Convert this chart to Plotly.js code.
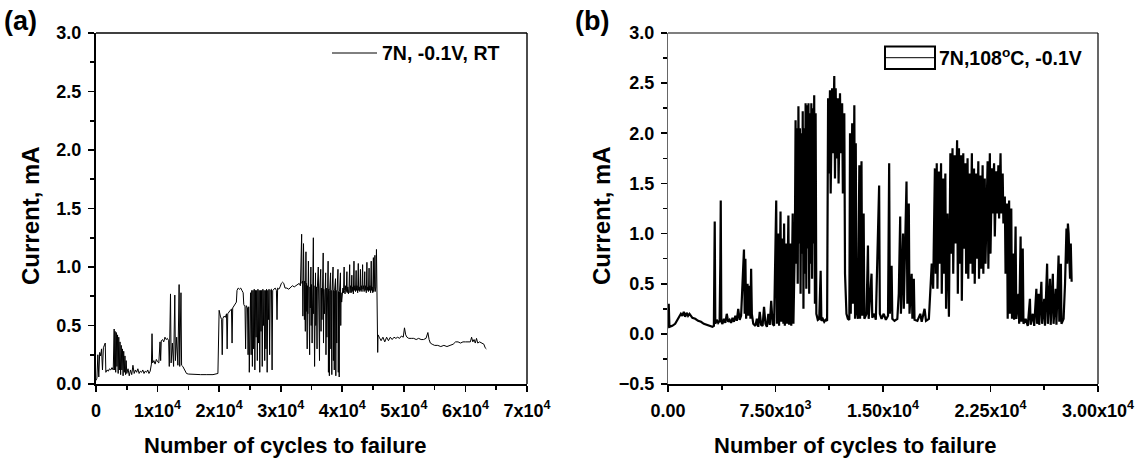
<!DOCTYPE html>
<html>
<head>
<meta charset="utf-8">
<script src="https://cdn.plot.ly/plotly-3.0.1.min.js"></script>
<style>html,body{margin:0;padding:0;background:#fff;}#chart{width:1141px;height:466px;}</style>
</head>
<body>
<div id="chart"></div>
<script>
// Panel (a): 7N, -0.1V, RT
const cyclesA = [0,150,300,450,600,750,900,1050,1200,1350,1500,1600,1800,2000,2200,2400,2600,2800,
2950,3000,3100,3200,3300,3400,3500,3600,3700,3800,3900,4000,4100,4200,4300,4400,4500,4600,4700,4800,4900,5000,
5200,5400,5600,5800,6000,6200,6400,6600,6800,7000,7200,7400,7600,7800,8000,8200,8400,8600,8800,
9000,9100,9200,9400,9600,9800,10000,10200,
10400,10500,10600,10800,11000,11200,11400,11600,11800,
11900,12100,12200,12400,12600,12800,12900,13100,13300,13500,13600,13800,13900,14100,14300,14500,14700,
15000,16000,17000,18000,19000,19800,
20000,20200,20400,20500,20600,20800,21000,21200,21300,21400,21600,21800,22000,22100,22200,22400,22600,22800,
22900,23100,23300,23500,23700,23900,
24000,24200,24300,24400,24600,24700,24800,24900,
25100,25200,25300,25400,25500,25600,25700,25800,25900,26000,26100,26200,26300,26400,26500,26600,26700,26800,26900,27000,27100,27200,27300,27400,27500,27600,27700,27800,27900,28000,28100,28200,28300,28500,28600,28700,28900,29100,29300,29400,29500,29700,29900,
30100,30300,30500,30700,31000,31300,31600,31900,32200,32500,32800,33000,
33200,33400,33450,33500,33550,33600,33700,33750,33800,33850,33900,34000,34050,34100,34150,34200,34300,34350,34400,34500,34550,34600,34700,34750,34800,34900,34950,35000,35100,35150,35300,35350,35400,35500,35550,35650,35700,35800,35900,35950,36100,36150,36200,36300,36350,36500,36550,36600,36700,36750,36900,36950,37000,37100,37150,37300,37350,37400,37500,37550,37700,37750,37800,37900,37950,38100,38150,38200,38300,38350,38500,38550,38600,38700,38750,38900,38950,39000,39100,39150,39300,39350,39400,39500,39550,39700,39750,39800,39900,
40000,40100,40200,40300,40350,40450,40550,40650,40750,40800,40900,41000,41100,41200,41250,41350,41450,41550,41600,41700,41800,41900,41950,42050,42150,42250,42300,42400,42500,42600,42650,42750,42850,42950,43000,43100,43200,43300,43350,43450,43550,43650,43700,43800,43900,44000,44050,44150,44250,44350,44400,44500,44600,44700,44750,44850,44950,45050,45100,45200,45300,45350,45450,45550,45650,45700,45750,45800,
46000,46300,46600,46900,47200,47500,47800,48100,48400,48700,49000,49300,49600,49900,50100,50300,50500,50800,51200,51600,52000,52400,52800,53200,53600,53900,54100,54300,54600,55000,55500,56000,56500,57000,57500,58000,58400,58800,59200,59600,60000,60400,60800,61000,61200,61400,61600,61800,62000,62300,62700,63000,63200,63400];
const currentA = [0.03,0.05,0.25,0.06,0.27,0.24,0.30,0.12,0.31,0.33,0.35,0.10,0.12,0.11,0.13,0.12,0.14,0.12,
0.47,0.12,0.45,0.10,0.44,0.15,0.42,0.09,0.40,0.12,0.36,0.08,0.33,0.12,0.30,0.07,0.28,0.10,0.24,0.08,0.20,0.09,
0.13,0.07,0.12,0.08,0.16,0.09,0.12,0.10,0.13,0.09,0.11,0.10,0.12,0.09,0.11,0.10,0.12,0.09,0.11,
0.17,0.43,0.18,0.20,0.17,0.21,0.19,0.18,
0.36,0.20,0.37,0.38,0.36,0.40,0.38,0.39,0.37,
0.15,0.77,0.18,0.35,0.15,0.76,0.20,0.40,0.16,0.85,0.15,0.78,0.16,0.15,0.13,0.11,0.09,
0.085,0.08,0.08,0.08,0.08,0.09,
0.63,0.58,0.55,0.25,0.56,0.58,0.57,0.60,0.30,0.60,0.62,0.63,0.64,0.35,0.65,0.67,0.68,0.70,
0.80,0.82,0.81,0.82,0.80,0.78,
0.68,0.66,0.30,0.67,0.65,0.25,0.66,0.10,
0.78,0.25,0.80,0.15,0.80,0.30,0.81,0.12,0.80,0.40,0.80,0.20,0.81,0.35,0.80,0.10,0.80,0.45,0.80,0.15,0.81,0.50,0.80,0.20,0.80,0.30,0.81,0.10,0.80,0.55,0.81,0.25,0.80,0.81,0.12,0.80,0.81,0.82,0.80,0.55,0.82,0.81,0.83,
0.86,0.87,0.86,0.82,0.82,0.81,0.83,0.84,0.83,0.84,0.85,0.86,
0.84,1.28,0.86,0.62,0.88,0.58,1.20,0.60,0.85,0.55,0.88,0.45,0.85,1.13,0.62,0.86,0.30,0.84,0.60,1.05,0.55,0.85,0.25,0.83,0.65,1.00,0.50,0.85,0.35,0.84,1.25,0.60,0.84,0.15,0.83,0.95,0.50,0.83,0.30,0.82,1.00,0.65,0.82,0.20,0.82,0.98,0.45,0.82,0.55,0.81,1.12,0.35,0.81,0.60,0.82,0.95,0.25,0.82,0.40,0.81,1.05,0.10,0.81,0.07,0.80,0.95,0.30,0.80,0.08,0.80,1.00,0.20,0.80,0.12,0.80,0.90,0.07,0.80,0.35,0.79,0.98,0.10,0.79,0.06,0.79,0.95,0.50,0.78,0.70,
0.75,0.82,0.78,1.00,0.80,0.77,0.84,0.79,0.96,0.78,0.83,0.77,0.82,1.02,0.78,0.84,0.78,0.93,0.79,0.83,0.77,1.05,0.80,0.84,0.79,0.97,0.80,0.84,0.78,1.03,0.80,0.83,0.79,0.98,0.80,0.84,0.79,1.02,0.81,0.84,0.79,0.96,0.80,0.84,0.78,1.04,0.80,0.83,0.79,0.99,0.80,0.84,0.78,1.05,0.80,0.83,0.78,1.08,0.79,0.82,1.10,0.79,0.83,1.15,0.78,0.80,0.27,0.42,
0.40,0.37,0.40,0.36,0.40,0.37,0.40,0.38,0.40,0.39,0.40,0.39,0.41,0.40,0.48,0.42,0.40,0.39,0.39,0.39,0.38,0.39,0.38,0.38,0.39,0.44,0.38,0.35,0.34,0.33,0.33,0.32,0.33,0.32,0.33,0.34,0.36,0.36,0.35,0.36,0.36,0.36,0.36,0.40,0.36,0.38,0.35,0.39,0.35,0.36,0.35,0.34,0.31,0.30];

// Panel (b): 7N, 108°C, -0.1V
const cyclesB = [0,50,100,300,500,700,900,1000,1100,1200,1300,1400,1500,1700,1900,2100,2300,2500,2700,2900,3100,3200,3260,3300,3400,3500,3600,3650,3680,3720,3800,3900,4000,4100,4200,4300,4400,4500,4600,4700,4800,4900,5000,5100,5200,5300,5350,5400,5450,5550,5600,5700,5750,5800,5850,5950,6100,6200,6300,6400,6500,6600,6700,6800,6900,7000,7100,7200,7300,7400,
7550,7600,7700,7750,7850,7900,8000,8050,8100,8150,8250,8300,8400,8450,8550,8600,8700,8750,8850,
8900,8950,9000,9050,9100,9150,9200,9250,9300,9350,9400,9450,9500,9550,9600,9650,9700,9750,9800,9850,9900,9950,10000,10050,10100,10150,10200,10250,10300,
10350,10450,10550,10650,10700,10800,10900,11000,11100,
11170,11220,11300,11350,11450,11500,11600,11650,11700,11750,11850,11900,12000,12050,12150,12200,12300,12350,12450,12550,12650,
12700,12750,12850,12900,13000,13050,13100,13150,13250,13350,13400,13500,13550,13650,13700,13850,13950,14000,14200,14250,14400,14500,14730,14780,14900,15050,15200,15350,15430,15480,15600,15650,15800,16000,
16100,16200,16250,16400,16450,16640,16700,16800,16850,17000,17050,17150,17200,17400,17600,17700,17900,18000,18200,
18300,18400,18500,18620,18680,18750,18800,18900,18950,19050,19100,19200,19250,19350,19400,19500,19600,
19700,19750,19850,19900,20000,20050,20170,20220,20300,20350,20450,20500,20600,20650,20750,20800,
20900,20950,21050,21100,21200,21250,21350,21400,21500,21550,21650,21700,21800,21850,21950,22000,22100,22150,22300,22350,22455,22500,
22600,22650,22750,22800,22900,22950,23050,23100,23200,23250,23350,
23400,23500,23550,23650,23700,23800,23850,23950,24000,24100,24150,24250,24300,24450,24500,24600,24650,24750,24800,24950,25100,25250,25300,25450,25550,25700,25750,25850,25900,26050,26100,26250,26300,26450,26500,26650,26700,26850,26900,27050,27100,27250,27300,27410,27450,27600,27700,27750,27800,27850,27900,27950,28050,28100,28160];
const currentB = [0.06,0.30,0.07,0.08,0.10,0.15,0.20,0.18,0.22,0.17,0.21,0.18,0.20,0.16,0.15,0.13,0.12,0.10,0.09,0.08,0.07,0.08,1.12,0.10,0.14,0.11,0.13,0.70,1.33,0.12,0.10,0.15,0.11,0.20,0.12,0.14,0.11,0.16,0.12,0.18,0.13,0.25,0.14,0.18,0.45,0.84,0.20,0.75,0.15,0.50,0.18,0.48,0.15,0.65,0.20,0.10,0.08,0.15,0.07,0.22,0.09,0.08,0.27,0.10,0.07,0.20,0.09,0.33,0.10,0.08,
1.33,0.10,1.00,0.08,1.22,0.12,0.95,0.10,1.10,0.08,0.90,0.10,1.18,0.09,0.90,0.08,1.20,0.10,0.90,
2.13,0.70,2.05,0.50,2.27,0.90,2.05,0.40,2.00,0.80,2.22,0.25,2.05,0.60,2.30,0.45,2.28,0.85,2.30,0.40,2.20,0.70,2.30,0.55,2.25,0.90,2.38,0.30,2.20,
0.20,0.14,0.15,0.63,0.13,0.15,0.12,0.14,0.13,
2.35,1.60,2.43,1.40,2.45,1.80,2.57,1.55,2.45,1.75,2.35,1.50,2.40,1.80,2.30,1.40,2.20,0.60,0.20,0.15,0.14,
2.00,0.20,2.10,0.30,2.28,0.15,1.90,0.25,0.15,1.68,0.15,1.72,0.18,1.20,0.15,0.20,0.88,0.15,0.60,0.16,0.20,0.14,1.48,0.20,0.15,0.20,0.14,0.18,1.70,0.20,0.68,0.15,0.13,0.15,
0.40,1.17,0.20,1.00,0.25,1.52,0.30,1.30,0.20,0.60,0.15,0.55,0.14,0.13,0.20,0.12,0.25,0.13,0.15,
0.50,0.70,0.45,1.65,0.60,1.70,0.45,1.62,0.70,1.70,0.40,1.55,0.60,1.60,0.25,1.20,0.17,
1.80,0.80,1.85,0.60,1.78,0.90,1.93,0.40,1.85,0.70,1.78,0.33,1.80,0.85,1.70,0.60,
1.75,0.55,1.60,0.70,1.80,0.60,1.65,0.50,1.60,0.75,1.72,0.55,1.58,0.65,1.68,0.60,1.55,0.70,1.72,0.65,1.80,0.80,
1.65,1.20,1.70,0.97,1.62,1.20,1.68,1.15,1.80,1.20,1.60,
1.10,1.37,0.60,1.30,0.15,1.33,0.20,1.25,0.15,0.80,0.14,1.07,0.15,0.40,0.10,0.97,0.12,0.85,0.10,0.15,0.08,0.35,0.09,0.20,0.08,0.45,0.10,0.40,0.09,0.52,0.10,0.35,0.08,0.70,0.10,0.55,0.09,0.60,0.10,0.45,0.09,0.78,0.12,0.70,0.10,0.15,0.50,0.90,1.05,0.70,1.10,1.00,0.55,0.90,0.52];

const ticksA = [0,10000,20000,30000,40000,50000,60000,70000];
const tickTextA = ['0','1x10<sup>4</sup>','2x10<sup>4</sup>','3x10<sup>4</sup>','4x10<sup>4</sup>','5x10<sup>4</sup>','6x10<sup>4</sup>','7x10<sup>4</sup>'];
const ticksB = [0,7500,15000,22500,30000];
const tickTextB = ['0.00','7.50x10<sup>3</sup>','1.50x10<sup>4</sup>','2.25x10<sup>4</sup>','3.00x10<sup>4</sup>'];
const legendA = '7N, -0.1V, RT';
const legendB = '7N,108<sup>o</sup>C, -0.1V';
const xTitle = 'Number of cycles to failure';
const yTitle = 'Current, mA';

const FONT = 'Liberation Sans, Arial, sans-serif';
const W = 1141, H = 466;
const px = v => v / W, py = v => 1 - v / H;

const traces = [
  {x: cyclesA, y: currentA, type: 'scatter', mode: 'lines', xaxis: 'x', yaxis: 'y',
   line: {color: '#000', width: 1}, showlegend: false},
  {x: cyclesB, y: currentB, type: 'scatter', mode: 'lines', xaxis: 'x2', yaxis: 'y2',
   line: {color: '#000', width: 2.2}, showlegend: false}
];

const tickFont = {family: FONT, size: 18, color: '#000', weight: 'bold'};
const titleFont = {family: FONT, size: 22, color: '#000', weight: 'bold'};
const yTitleFont = {family: FONT, size: 24, color: '#000', weight: 'bold'};

function xAxis(domain, range, tv, tt, minorD, anchor) {
  return {domain: domain, range: range, anchor: anchor, tickmode: 'array', tickvals: tv, ticktext: tt,
    ticks: 'outside', ticklen: 6, tickwidth: 1.6, tickcolor: '#000', showline: true, linecolor: '#000', linewidth: 2,
    mirror: false, showgrid: false, zeroline: false, tickfont: tickFont, ticklabelstandoff: 3,
    minor: {dtick: minorD, ticks: 'outside', ticklen: 4, tickwidth: 1.6, tickcolor: '#000', showgrid: false}};
}
function yAxis(domain, range, anchor, lc, lw) {
  return {domain: domain, range: range, anchor: anchor, dtick: 0.5, tick0: 0, tickformat: '.1f',
    ticks: 'outside', ticklen: 6, tickwidth: 1.6, tickcolor: '#000', showline: true, linecolor: lc, linewidth: lw,
    mirror: false, showgrid: false, zeroline: false, tickfont: tickFont, ticklabelstandoff: 3,
    minor: {dtick: 0.25, ticks: 'outside', ticklen: 4, tickwidth: 1.6, tickcolor: '#000', showgrid: false}};
}

const yDom = [py(384), py(33)];
function frame(xa, ya, w) {
  return [
    {type: 'line', xref: xa + ' domain', yref: ya + ' domain', x0: 0, x1: 1, y0: 1, y1: 1, line: {color: '#000', width: w}},
    {type: 'line', xref: xa + ' domain', yref: ya + ' domain', x0: 1, x1: 1, y0: 0, y1: 1, line: {color: '#000', width: w}}
  ];
}
const annFont = s => ({family: FONT, size: s, color: '#000', weight: 'bold'});
const layout = {
  width: W, height: H, margin: {l: 0, r: 0, t: 0, b: 0}, paper_bgcolor: '#fff', plot_bgcolor: '#fff',
  showlegend: false,
  xaxis: xAxis([px(96), px(527)], [0, 70000], ticksA, tickTextA, 5000, 'y'),
  yaxis: yAxis(yDom, [0, 3], 'x', '#000', 2),
  xaxis2: xAxis([px(668), px(1098)], [0, 30000], ticksB, tickTextB, 3750, 'y2'),
  yaxis2: yAxis(yDom, [-0.5, 3], 'x2', '#666', 1),
  shapes: frame('x', 'y', 1.4).concat(frame('x2', 'y2', 1.2)).concat([
    {type: 'line', xref: 'paper', yref: 'paper', x0: px(332), x1: px(377), y0: py(53), y1: py(53), line: {color: '#000', width: 1}},
    {type: 'rect', xref: 'paper', yref: 'paper', x0: px(885), x1: px(935), y0: py(46.5), y1: py(69), line: {color: '#000', width: 2}},
    {type: 'line', xref: 'paper', yref: 'paper', x0: px(885), x1: px(935), y0: py(57.7), y1: py(57.7), line: {color: '#000', width: 1}}
  ]),
  annotations: [
    {text: '(a)', xref: 'paper', yref: 'paper', x: px(2), y: py(21), xanchor: 'left', yanchor: 'middle', showarrow: false, font: annFont(27)},
    {text: '(b)', xref: 'paper', yref: 'paper', x: px(573), y: py(21), xanchor: 'left', yanchor: 'middle', showarrow: false, font: annFont(27)},
    {text: legendA, xref: 'paper', yref: 'paper', x: px(380), y: py(53), xanchor: 'left', yanchor: 'middle', showarrow: false, font: annFont(19.5)},
    {text: legendB, xref: 'paper', yref: 'paper', x: px(937), y: py(57), xanchor: 'left', yanchor: 'middle', showarrow: false, font: annFont(19.5)},
    {text: xTitle, xref: 'paper', yref: 'paper', x: px(285), y: py(445), xanchor: 'center', yanchor: 'middle', showarrow: false, font: titleFont},
    {text: xTitle, xref: 'paper', yref: 'paper', x: px(855), y: py(445), xanchor: 'center', yanchor: 'middle', showarrow: false, font: titleFont},
    {text: yTitle, xref: 'paper', yref: 'paper', x: px(30), y: py(216), xanchor: 'center', yanchor: 'middle', textangle: -90, showarrow: false, font: yTitleFont},
    {text: yTitle, xref: 'paper', yref: 'paper', x: px(601), y: py(216), xanchor: 'center', yanchor: 'middle', textangle: -90, showarrow: false, font: yTitleFont}
  ]
};

Plotly.newPlot('chart', traces, layout, {displayModeBar: false, staticPlot: true});
</script>
</body>
</html>
